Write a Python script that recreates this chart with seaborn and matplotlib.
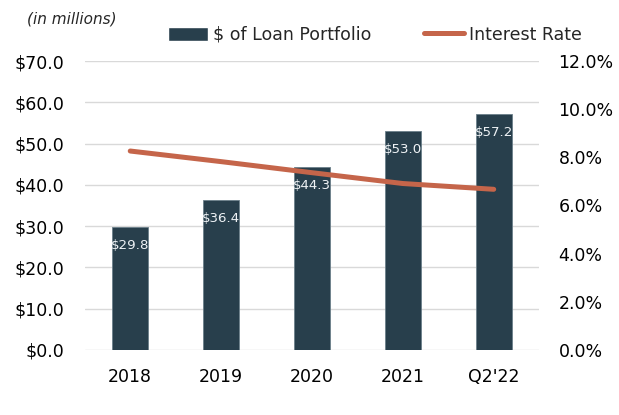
import pandas as pd
import seaborn as sns
import matplotlib.pyplot as plt
from matplotlib.patches import Patch
from matplotlib.lines import Line2D

# data
years = ["2018", "2019", "2020", "2021", "Q2'22"]
loans = [29.8, 36.4, 44.3, 53.0, 57.2]
rates = [8.26, 7.82, 7.36, 6.91, 6.67]

bar_color = "#283F4C"
line_color = "#C5654A"

sns.set_theme(style="white")
plt.rcParams['font.family'] = ['DejaVu Sans']

df = pd.DataFrame({"year": years, "loans": loans, "rate": rates})

fig = plt.figure(figsize=(6.19, 4.15), dpi=100)
ax = fig.add_axes([0.137, 0.157, 0.734, 0.696])

sns.barplot(data=df, x="year", y="loans", color=bar_color, width=0.4,
            saturation=1, ax=ax, zorder=2, edgecolor="#6B7F8A", linewidth=0.6)
ax.set_ylim(0, 70)
ax.set_yticks(range(0, 71, 10))
ax.set_yticklabels([f"${v:.1f}" for v in range(0, 71, 10)])
ax.set_xlim(-0.5, 4.5)
ax.grid(axis="y", color="#D9D9D9", linewidth=1, zorder=0)
ax.set_axisbelow(True)
ax.set_xlabel("")
ax.set_ylabel("")
ax.tick_params(axis="y", length=0, pad=15, labelsize=12.5, colors="black")
ax.tick_params(axis="x", length=0, pad=13, labelsize=12.5, colors="black")
for s in ax.spines.values():
    s.set_visible(False)

# value labels inside the top of each bar
for i, v in enumerate(loans):
    ax.annotate(f"${v:.1f}", (i, v), xytext=(0, -13.5), textcoords="offset points",
                ha="center", va="center", fontsize=9.6, color="#EEF2F5", zorder=5)

ax2 = ax.twinx()
sns.lineplot(data=df, x="year", y="rate", color=line_color, linewidth=3.6,
             sort=False, ax=ax2, solid_capstyle="round")
ax2.set_ylim(0, 12)
ax2.set_yticks(range(0, 13, 2))
ax2.set_yticklabels([f"{v:.1f}%" for v in range(0, 13, 2)])
ax2.set_ylabel("")
ax2.tick_params(axis="y", length=0, pad=14, labelsize=12.5, colors="black")
for s in ax2.spines.values():
    s.set_visible(False)

fig.text(0.044, 0.955, "(in millions)", fontsize=11, style="italic",
         ha="left", va="center")

handles = [Patch(facecolor=bar_color, label="$ of Loan Portfolio"),
           Line2D([0], [0], color=line_color, linewidth=3.6, label="Interest Rate")]
fig.legend(handles=handles, loc="center", bbox_to_anchor=(0.606, 0.916), ncol=2,
           frameon=False, fontsize=12.5, handlelength=2.3, handletextpad=0.3,
           columnspacing=3.0, handleheight=0.9)

fig.savefig("out.png", dpi=100)
